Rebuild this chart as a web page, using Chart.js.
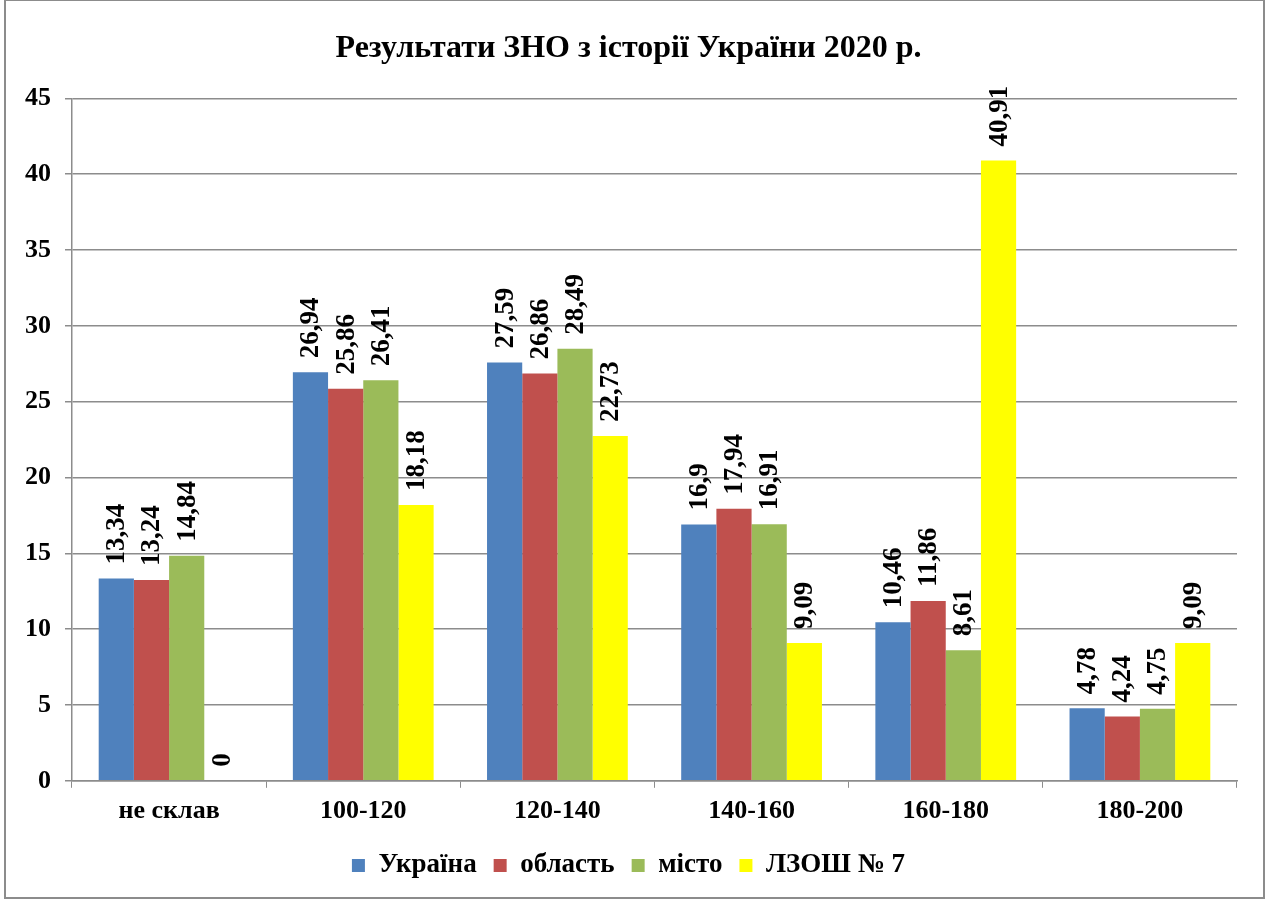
<!DOCTYPE html>
<html>
<head>
<meta charset="utf-8">
<script src="https://cdn.jsdelivr.net/npm/chart.js@4"></script>
<style>
  html, body { margin: 0; padding: 0; background: #fff; }
  #wrap { width: 1266px; height: 901px; position: relative; }
</style>
</head>
<body>
<div id="wrap"><canvas id="znoChart"></canvas></div>
<script>
// data
const categories = ['не склав', '100-120', '120-140', '140-160', '160-180', '180-200'];
const ukraine = [13.34, 26.94, 27.59, 16.9, 10.46, 4.78];
const oblast = [13.24, 25.86, 26.86, 17.94, 11.86, 4.24];
const city = [14.84, 26.41, 28.49, 16.91, 8.61, 4.75];
const school = [0, 18.18, 22.73, 9.09, 40.91, 9.09];
const yTicks = [0, 5, 10, 15, 20, 25, 30, 35, 40, 45];

const serif = '"Liberation Serif", "Times New Roman", serif';

// rotated value labels above each bar
const valueLabels = {
    id: 'valueLabels',
    afterDatasetsDraw(chart) {
        const ctx = chart.ctx;
        ctx.save();
        ctx.font = 'bold 27px ' + serif;
        ctx.fillStyle = '#000';
        ctx.textAlign = 'left';
        ctx.textBaseline = 'middle';
        chart.data.datasets.forEach((ds, i) => {
            chart.getDatasetMeta(i).data.forEach((bar, j) => {
                const txt = String(ds.data[j]).replace('.', ',');
                ctx.save();
                ctx.translate(bar.x + 1, bar.y - 14);
                ctx.rotate(-Math.PI / 2);
                ctx.fillText(txt, 0, 0);
                ctx.restore();
            });
        });
        ctx.restore();
    }
};

// white background + outer frame
const frame = {
    id: 'frame',
    beforeDraw(chart) {
        const ctx = chart.ctx;
        ctx.save();
        ctx.fillStyle = '#fff';
        ctx.fillRect(0, 0, chart.width, chart.height);
        ctx.strokeStyle = '#8c8c8c';
        ctx.lineWidth = 2;
        ctx.strokeRect(5, 0, chart.width - 7, chart.height - 3);
        ctx.restore();
    }
};

new Chart(document.getElementById('znoChart'), {
    type: 'bar',
    data: {
        labels: categories,
        datasets: [
            { label: 'Україна', data: ukraine, backgroundColor: '#4F81BD' },
            { label: 'область', data: oblast, backgroundColor: '#C0504D' },
            { label: 'місто', data: city, backgroundColor: '#9BBB59' },
            { label: 'ЛЗОШ № 7', data: school, backgroundColor: '#FFFF00' }
        ]
    },
    options: {
        responsive: true,
        maintainAspectRatio: false,
        animation: false,
        datasets: { bar: { categoryPercentage: 0.725, barPercentage: 1.0 } },
        layout: { padding: { left: 20, right: 29, top: 0, bottom: 12 } },
        plugins: {
            title: {
                display: true,
                text: 'Результати ЗНО з історії України 2020 р.',
                color: '#000',
                font: { family: serif, size: 32, weight: 'bold' },
                padding: { top: 30, bottom: 30 }
            },
            legend: {
                position: 'bottom',
                labels: {
                    color: '#000',
                    font: { family: serif, size: 27, weight: 'bold' },
                    boxWidth: 13,
                    boxHeight: 13,
                    padding: 17
                }
            },
            tooltip: { enabled: false }
        },
        scales: {
            x: {
                grid: { display: true, drawOnChartArea: false, drawTicks: true, tickLength: 7, offset: true, color: '#8c8c8c' },
                border: { display: true, color: '#8c8c8c', width: 1.5 },
                ticks: { color: '#000', font: { family: serif, size: 26, weight: 'bold' }, padding: 8 }
            },
            y: {
                min: 0,
                max: 45,
                afterBuildTicks(axis) { axis.ticks = yTicks.map(v => ({ value: v })); },
                afterFit(axis) { axis.width = 52; },
                grid: { color: '#8c8c8c', lineWidth: 1.5, tickLength: 7 },
                border: { display: true, color: '#8c8c8c', width: 1.5 },
                ticks: { color: '#000', font: { family: serif, size: 26, weight: 'bold' }, padding: 14 }
            }
        }
    },
    plugins: [frame, valueLabels]
});
</script>
</body>
</html>
